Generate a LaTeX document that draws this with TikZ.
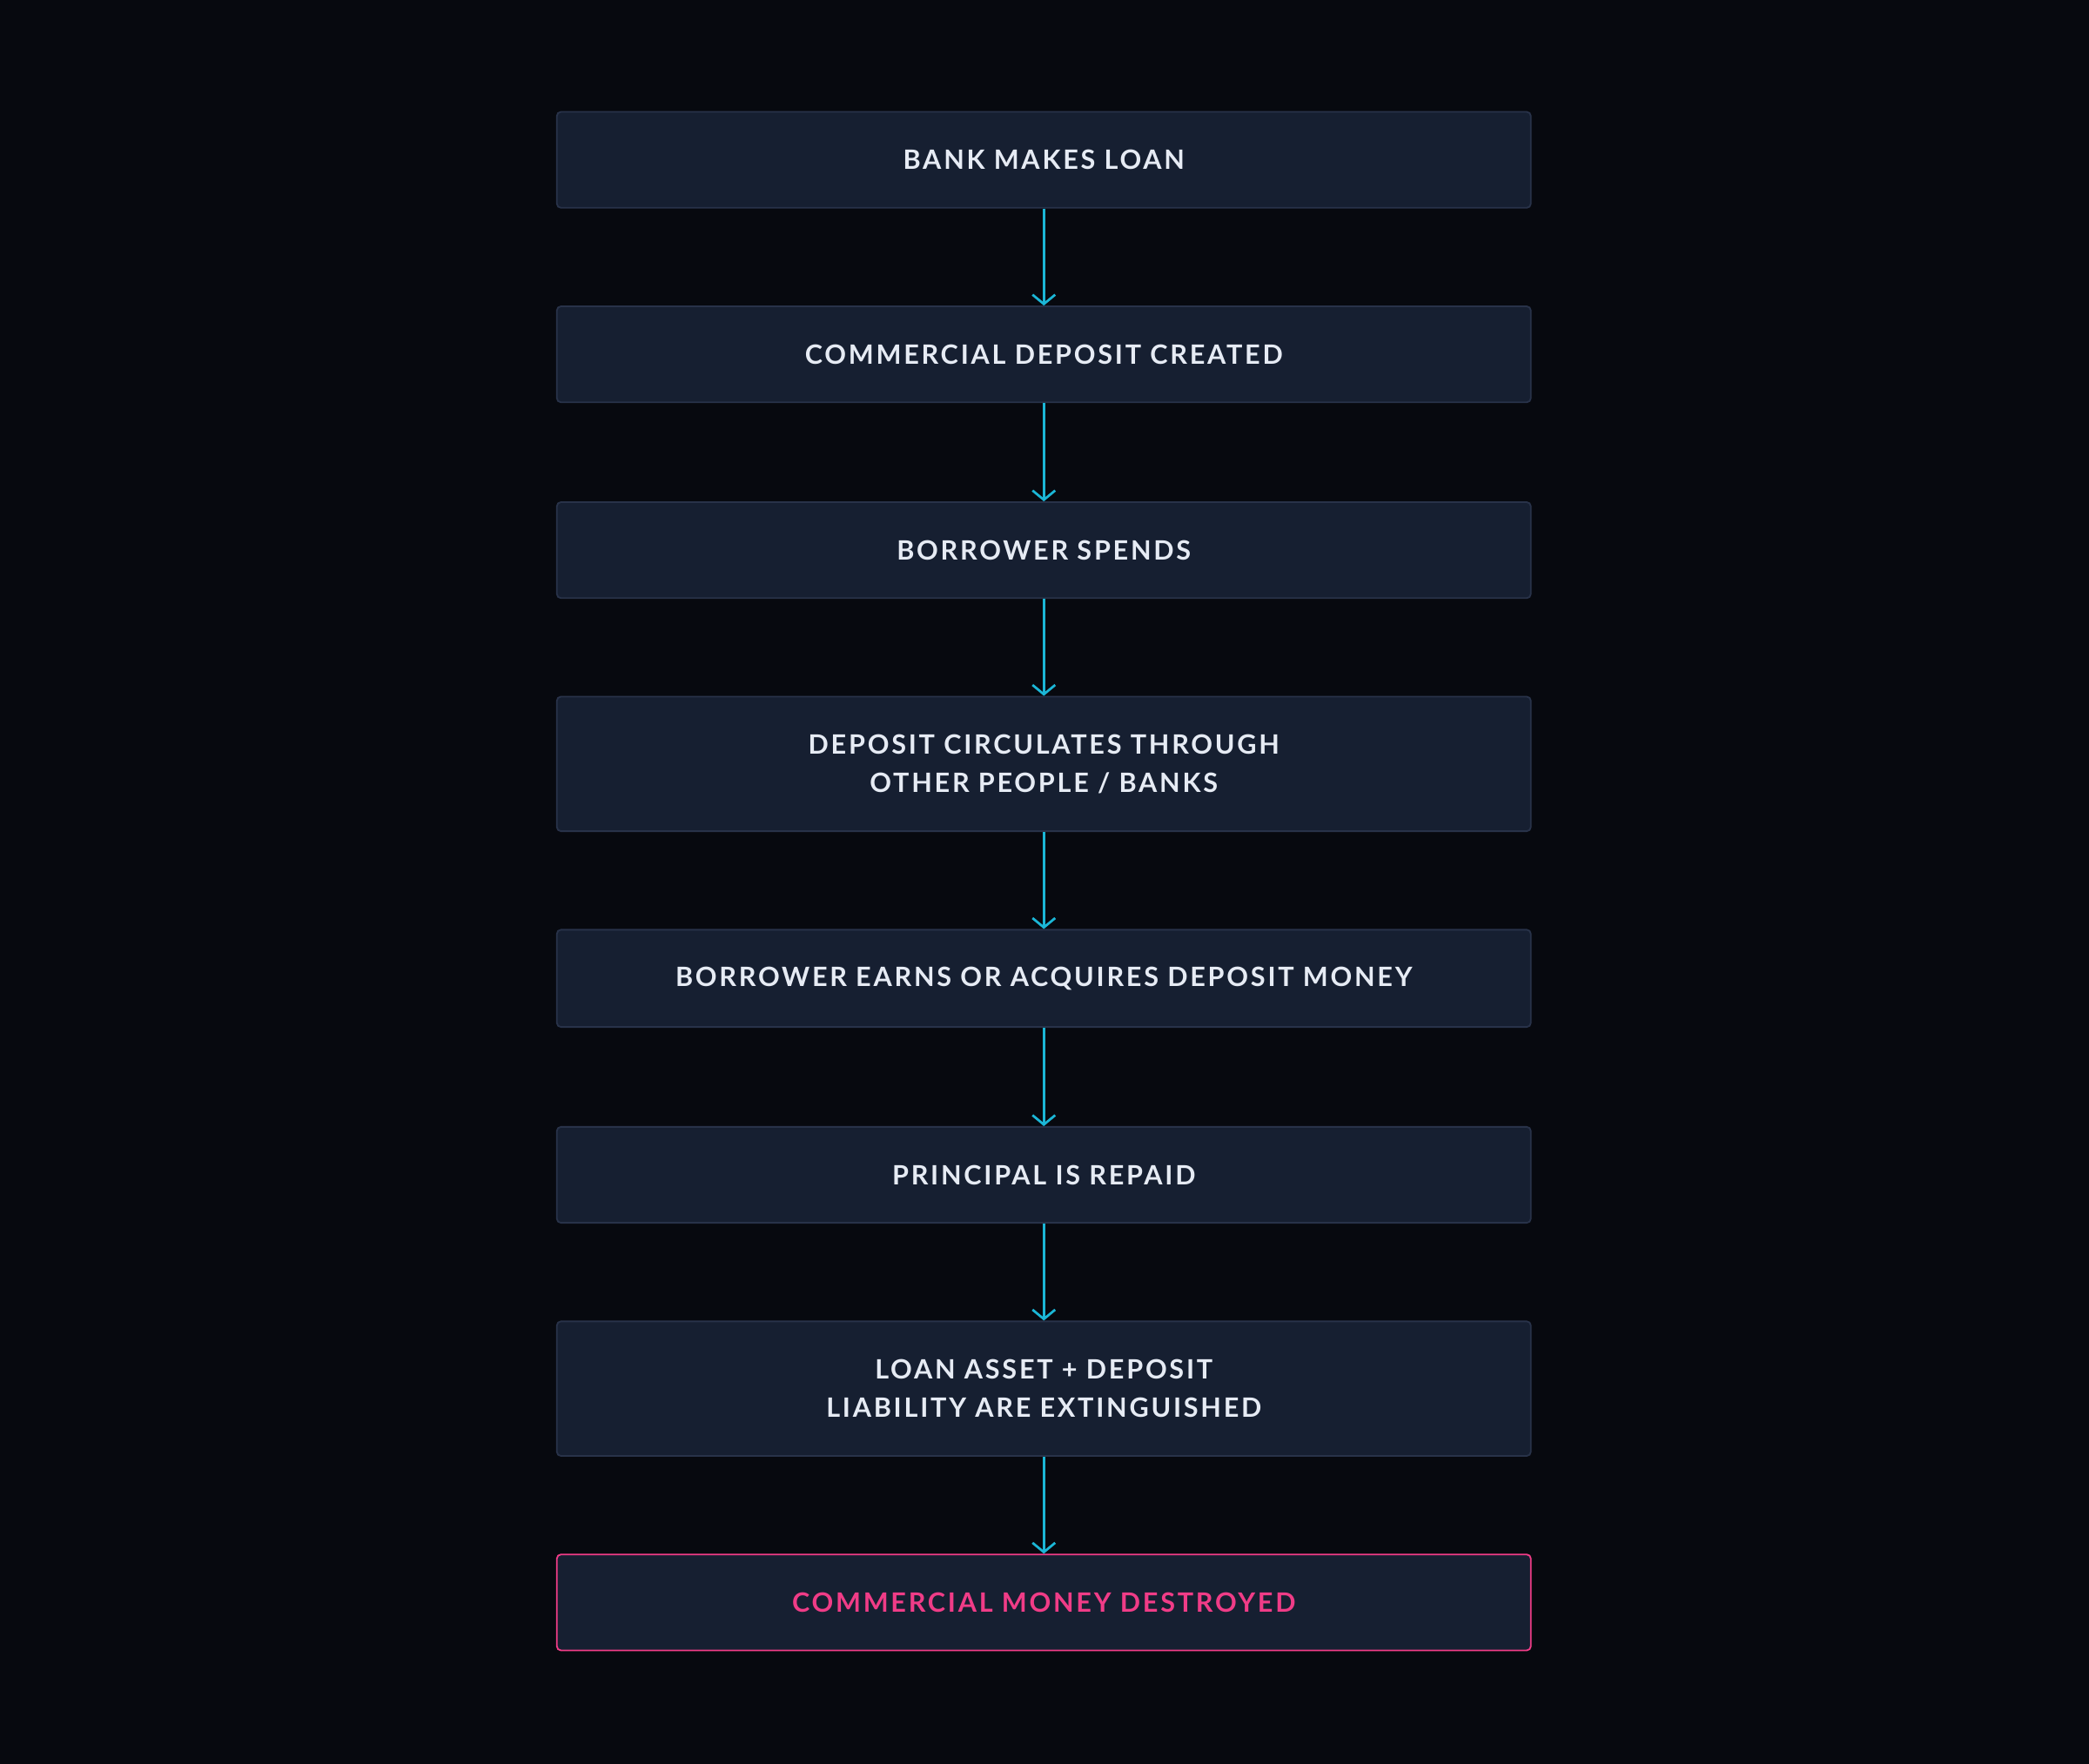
\documentclass[tikz,border=0pt]{standalone}
\usepackage{fontspec}
\setmainfont{Lato}[UprightFont=* Bold,LetterSpace=9]
\usetikzlibrary{arrows.meta}
\definecolor{bg}{HTML}{07090F}
\definecolor{boxfill}{HTML}{161F31}
\definecolor{boxline}{HTML}{283249}
\definecolor{txt}{HTML}{E6EBF4}
\definecolor{cyanc}{HTML}{1BB6D6}
\definecolor{pinkc}{HTML}{F03C87}
\begin{document}
\begin{tikzpicture}[x=1pt,y=-1pt,
  box/.style={draw=boxline,line width=1.2pt,fill=boxfill,rounded corners=3pt,minimum width=731pt,text=txt,align=center,font=\fontsize{20}{29}\selectfont,inner sep=0pt},
  arr/.style={draw=cyanc,line width=1.8pt,-{Straight Barb[length=7pt,width=17pt,line width=1.8pt]}}]
\fill[bg] (0,0) rectangle (1568,1324);
\node[box,minimum height=72pt] (b1) at (783.5,120) {BANK MAKES LOAN};
\node[box,minimum height=72pt] (b2) at (783.5,266) {COMMERCIAL DEPOSIT CREATED};
\node[box,minimum height=72pt] (b3) at (783.5,413) {BORROWER SPENDS};
\node[box,minimum height=101pt] (b4) at (783.5,573.5) {DEPOSIT CIRCULATES THROUGH\\OTHER PEOPLE / BANKS};
\node[box,minimum height=73pt] (b5) at (783.5,734.5) {BORROWER EARNS OR ACQUIRES DEPOSIT MONEY};
\node[box,minimum height=72pt] (b6) at (783.5,882) {PRINCIPAL IS REPAID};
\node[box,minimum height=101pt] (b7) at (783.5,1042.5) {LOAN ASSET + DEPOSIT\\LIABILITY ARE EXTINGUISHED};
\node[box,draw=pinkc,text=pinkc,minimum height=72pt] (b8) at (783.5,1203) {COMMERCIAL MONEY DESTROYED};
\foreach \a/\b in {b1/b2,b2/b3,b3/b4,b4/b5,b5/b6,b6/b7,b7/b8}
  \draw[arr] (\a.south) -- (\b.north);
\end{tikzpicture}
\end{document}
